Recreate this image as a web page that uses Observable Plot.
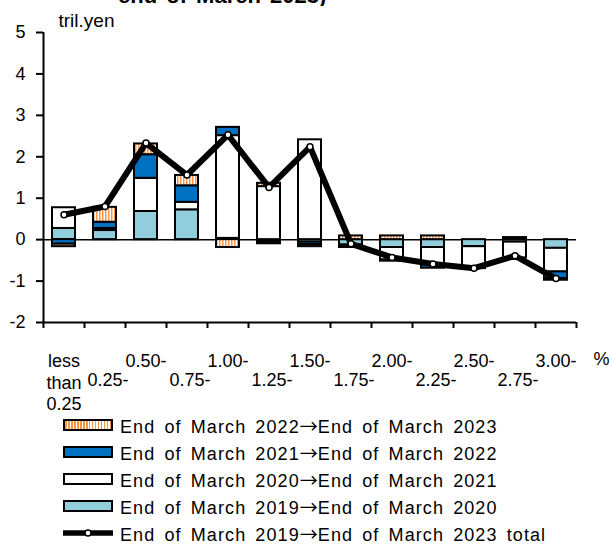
<!DOCTYPE html>
<html><head><meta charset="utf-8">
<script src="https://cdn.jsdelivr.net/npm/d3@7"></script>
<script src="https://cdn.jsdelivr.net/npm/@observablehq/plot@0.6"></script>
<style>
body{margin:0;background:#fff;font-family:"Liberation Sans",Arial,sans-serif;color:#000;}
#wrap{position:relative;width:612px;height:544px;overflow:hidden;}
#chart{position:absolute;left:0;top:0;}
#title{position:absolute;left:118px;top:0;height:6px;overflow:hidden;font-weight:bold;font-size:22px;white-space:nowrap;word-spacing:3px;}
#title span{display:block;line-height:22px;margin-top:-15px;}
#legend{position:absolute;left:63px;top:411px;font-size:18px;letter-spacing:1.1px;word-spacing:3px;white-space:nowrap;}
.row{display:flex;align-items:center;height:27px;}
.sw{width:50px;height:12px;margin-right:7px;box-sizing:border-box;border:2px solid #000;flex:none;}
.lsw{width:50px;height:12px;margin-right:7px;flex:none;}
.arr{font-family:"Noto Sans CJK JP","DejaVu Sans",sans-serif;letter-spacing:0;}
</style></head>
<body>
<div id="wrap">
  <div id="chart"></div>
  <div id="title"><span>end of March 2023)</span></div>
  <div id="legend"></div>
</div>
<script>
const categories = ["less than 0.25","0.25-","0.50-","0.75-","1.00-","1.25-","1.50-","1.75-","2.00-","2.25-","2.50-","2.75-","3.00-"];
const tickLabels = ["less\nthan\n0.25","0.25-","0.50-","0.75-","1.00-","1.25-","1.50-","1.75-","2.00-","2.25-","2.50-","2.75-","3.00-"];
const series = [
  "End of March 2019→End of March 2020",
  "End of March 2020→End of March 2021",
  "End of March 2021→End of March 2022",
  "End of March 2022→End of March 2023"
];
const totalName = "End of March 2019→End of March 2023 total";
const v2019_2020 = [0.27, 0.22, 0.68, 0.72, 0.03, -0.05, -0.06, -0.13, -0.19, -0.19, -0.17, -0.06, -0.21];
const v2020_2021 = [0.50, 0.05, 0.80, 0.18, 2.48, 1.28, 2.41, -0.03, -0.30, -0.42, -0.48, -0.38, -0.57];
const v2021_2022 = [-0.11, 0.15, 0.57, 0.40, 0.20, -0.05, -0.06, -0.03, -0.03, -0.08, -0.03, 0.03, -0.16];
const v2022_2023 = [-0.06, 0.36, 0.26, 0.25, -0.19, 0.08, -0.05, 0.09, 0.09, 0.09, -0.02, 0.02, -0.04];
const totals = [0.60, 0.80, 2.33, 1.56, 2.53, 1.26, 2.24, -0.10, -0.43, -0.59, -0.69, -0.39, -0.94];
const yTicks = [-2, -1, 0, 1, 2, 3, 4, 5];
const seriesColors = ["#92CDDC", "#FFFFFF", "#0070C0", "url(#stripes)"];

const seriesValues = [v2019_2020, v2020_2021, v2021_2022, v2022_2023];
const rows = [];
seriesValues.forEach((vals, i) => vals.forEach((v, j) => rows.push({cat: categories[j], series: series[i], value: v})));
const totalRows = categories.map((c, j) => ({cat: c, total: totals[j]}));
const labelOf = new Map(categories.map((c, i) => [c, tickLabels[i]]));
const evenCats = categories.filter((c, i) => i % 2 === 0);
const oddCats = categories.filter((c, i) => i % 2 === 1);
const half = (612 - 43 - 36) / categories.length / 2;

const svg = Plot.plot({
  width: 612, height: 412,
  marginTop: 32, marginBottom: 90, marginLeft: 43, marginRight: 36,
  style: {fontFamily: "Liberation Sans, Arial, sans-serif", fontSize: "18px", color: "#000", background: "transparent", overflow: "visible"},
  x: {domain: categories, paddingInner: 0.44, paddingOuter: 0.22, axis: null},
  y: {domain: [-2, 5], axis: null},
  color: {domain: series, range: seriesColors},
  marks: [
    Plot.ruleY([0], {stroke: "#000", strokeWidth: 1.5}),
    Plot.barY(rows, {x: "cat", y: "value", fill: "series", stroke: "#000", strokeWidth: 2}),
    Plot.line(totalRows, {x: "cat", y: "total", stroke: "#000", strokeWidth: 6}),
    Plot.dot(totalRows, {x: "cat", y: "total", r: 3, fill: "#fff", stroke: "#000", strokeWidth: 1.5}),
    Plot.ruleY([-2], {stroke: "#000", strokeWidth: 2}),
    Plot.ruleX([categories[0]], {y1: -2, y2: 5, dx: -half, stroke: "#000", strokeWidth: 2}),
    Plot.axisY(yTicks, {tickSize: 7, tickPadding: 11, tickFormat: d => String(d), label: null, strokeWidth: 2}),
    Plot.axisX(categories, {tickSize: 6, tickFormat: () => "", dx: -half, label: null, strokeWidth: 2}),
    Plot.axisX([categories[categories.length - 1]], {tickSize: 6, tickFormat: () => "", dx: half, label: null, strokeWidth: 2}),
    Plot.axisX(evenCats, {tickSize: 0, tickPadding: 30, tickFormat: d => labelOf.get(d), lineHeight: 1.17, label: null}),
    Plot.axisX(oddCats, {tickSize: 0, tickPadding: 30, dy: 21, dx: 3, tickFormat: d => labelOf.get(d), label: null}),
    Plot.text(["%"], {frameAnchor: "bottom-right", textAnchor: "start", lineAnchor: "top", dx: 17, dy: 30, fontSize: 18}),
    Plot.text(["tril.yen"], {frameAnchor: "top-left", textAnchor: "start", lineAnchor: "bottom", dx: 15, dy: -6, fontSize: 19})
  ]
});

const defs = d3.select(svg).insert("defs", ":first-child");
const pat = defs.append("pattern").attr("id", "stripes").attr("patternUnits", "userSpaceOnUse").attr("width", 3).attr("height", 3);
pat.append("rect").attr("width", 3).attr("height", 3).attr("fill", "#fff");
pat.append("rect").attr("width", 1.5).attr("height", 3).attr("fill", "#F79646");
document.getElementById("chart").appendChild(svg);

// legend (top-to-bottom order as in the reference)
const legend = d3.select("#legend");
const legendItems = [
  {name: series[3], fill: "repeating-linear-gradient(90deg,#F79646 0 1.5px,#fff 1.5px 3px)"},
  {name: series[2], fill: seriesColors[2]},
  {name: series[1], fill: seriesColors[1]},
  {name: series[0], fill: seriesColors[0]}
];
function addLabel(sel, text) {
  const span = sel.append("span");
  text.split("→").forEach((part, k) => {
    if (k > 0) span.append("span").attr("class", "arr").text("→");
    span.append("span").text(part);
  });
}
legendItems.forEach(it => {
  const r = legend.append("div").attr("class", "row");
  r.append("div").attr("class", "sw").style("background", it.fill);
  addLabel(r, it.name);
});
const lr = legend.append("div").attr("class", "row");
const ls = lr.append("svg").attr("class", "lsw").attr("width", 50).attr("height", 12);
ls.append("line").attr("x1", 0).attr("x2", 50).attr("y1", 6).attr("y2", 6).attr("stroke", "#000").attr("stroke-width", 5.5);
ls.append("circle").attr("cx", 25).attr("cy", 6).attr("r", 3).attr("fill", "#fff").attr("stroke", "#000").attr("stroke-width", 1.5);
addLabel(lr, totalName);
</script>
</body></html>
